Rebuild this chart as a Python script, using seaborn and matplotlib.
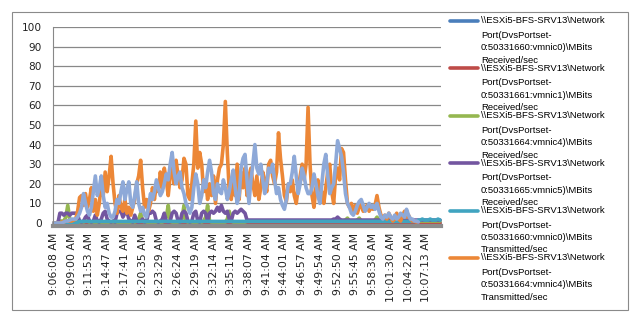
import numpy as np
import pandas as pd
import matplotlib
matplotlib.use("Agg")
import matplotlib.pyplot as plt
from matplotlib.lines import Line2D
from matplotlib.patches import Rectangle
import seaborn as sns

nan = np.nan

# ---- tick labels (one label every 9 samples) ----
time_labels = ["9:06:08 AM", "9:09:00 AM", "9:11:53 AM", "9:14:47 AM", "9:17:41 AM",
               "9:20:35 AM", "9:23:29 AM", "9:26:24 AM", "9:29:19 AM", "9:32:14 AM",
               "9:35:11 AM", "9:38:07 AM", "9:41:04 AM", "9:44:01 AM", "9:46:57 AM",
               "9:49:54 AM", "9:52:50 AM", "9:55:45 AM", "9:58:38 AM", "10:01:30 AM",
               "10:04:22 AM", "10:07:13 AM"]
label_step = 9

series_names = [
    r"\\ESXi5-BFS-SRV13\Network Port(DvsPortset-0:50331660:vmnic0)\MBits Received/sec",
    r"\\ESXi5-BFS-SRV13\Network Port(DvsPortset-0:50331661:vmnic1)\MBits Received/sec",
    r"\\ESXi5-BFS-SRV13\Network Port(DvsPortset-0:50331664:vmnic4)\MBits Received/sec",
    r"\\ESXi5-BFS-SRV13\Network Port(DvsPortset-0:50331665:vmnic5)\MBits Received/sec",
    r"\\ESXi5-BFS-SRV13\Network Port(DvsPortset-0:50331660:vmnic0)\MBits Transmitted/sec",
    r"\\ESXi5-BFS-SRV13\Network Port(DvsPortset-0:50331664:vmnic4)\MBits Transmitted/sec",
    r"\\ESXi5-BFS-SRV13\Network Port(DvsPortset-0:50331665:vmnic5)\MBits Transmitted/sec",
]
colors = ["#4A7EBB", "#BE4B48", "#95B750", "#7356A0", "#40A4C0", "#EC8737", "#8EA9D8"]

# ---- series values (197 samples each) ----
rx_vmnic0 = [
    0, 0, 0, 0, 0, 0, 0, 0, 0, 0,  0, 0, 0, 0, 0, 0, 0, 0, 0, 0,
    0, 0, 0, 0, 0, 0, 0, 0, 0, 0,  0, 0, 0, 0, 0, 0, 0, 0, 0, 0,
    0, 0, 0, 0, 0, 0, 0, 0, 0, 0,  0, 0, 0, 0, 0, 0, 0, 0, 0, 0,
    0, 0, 0, 0, 0, 0, 0, 0, 0, 0,  0, 0, 0, 0, 0, 0, 0, 0, 0, 0,
    0, 0, 0, 0, 0, 0, 0, 0, 0, 0,  0, 0, 0, 0, 0, 0, 0, 0, 0, 0,
    0, 0, 0, 0, 0, 0, 0, 0, 0, 0,  0, 0, 0, 0, 0, 0, 0, 0, 0, 0,
    0, 0, 0, 0, 0, 0, 0, 0, 0, 0,  0, 0, 0, 0, 0, 0, 0, 0, 0, 0,
    0, 0, 0, 0, 0, 0, 0, 0, 0, 0,  0, 0, 0, 0, 0, 0, 0, 0, 0, 0,
    0, 0, 0, 0, 0, 0, 0, 0, 0, 0,  0, 0, 0, 0, 0, 0, 0, 0, 0, 0,
    0, 0, 0, 0, 0, 0, 0, 0, 0, 0,  0, 0, 0, 0, 0, 0, 0,
]
rx_vmnic1 = list(rx_vmnic0)

rx_vmnic4 = [
    0, 0, 0.5, 1, 1, 1, 3, 9, 2, 1,
    1, 0.5, 0.5, 0.5, 0.5, 0.5, 1, 1, 0.5, 0.5,
    0.5, 0.5, 0.5, 0.5, 0.5, 0.5, 0.5, 0.5, 0.5, 0.5,
    0.5, 0.5, 0.5, 0.5, 0.5, 0.5, 0.5, 0.5, 0.5, 0.5,
    0.5, 0.5, 1, 2, 5, 1, 0.5, 0.5, 0.5, 0.5,
    0.5, 0.5, 0.5, 0.5, 0.5, 0.5, 1, 3, 9, 1,
    0.5, 0.5, 0.5, 0.5, 0.5, 2, 9, 1, 0.5, 0.5,
    0.5, 0.5, 0.5, 0.5, 0.5, 0.5, 1, 3, 9, 1,
    0.5, 0.5, 0.5, 0.5, 0.5, 0.5, 0.5, 0.5, 2, 6,
    1, 0.5, 0.5, 0.5, 0.5, 0.5, 0.5, 0.5, 1, 1,
    1, 1, 1, 1, 1, 1, 1, 1, 1, 1,
    1, 1, 1, 1, 1, 1, 1, 1, 1, 1,
    1, 1, 1, 1, 1, 1, 1, 1, 1, 1,
    1, 1, 1, 1, 1, 1, 1, 1, 1, 1,
    1, 1, 1, 1, 1, 1, 1, 1, 1.5, 2.5,
    1, 1, 1, 1, 1.5, 2.5, 1, 1, 1, 1,
    1, 1, 1, 1.5, 3, 1.5, 1, 1, 1, 1,
    1, 1, 1, 1, 1, 1, 1, 1, 1, 1,
    1, 1, 1, 1, 1, 1, 1, 1, 1, 1,
    1, 1, 1, 1, 1, 1, 1,
]

rx_vmnic5 = [
    0, 0, 0, 5, 5, 4, 5, 5, 4, 5,
    5, 5, 4, 1, 0.5, 1, 3, 4, 1, 0.5,
    1, 4, 1, 0.5, 2, 5, 6, 2, 1, 0.5,
    1, 0.5, 5, 6, 6, 3, 5, 6, 2, 1,
    0.5, 4, 1, 0.5, 1, 2, 0.5, 1, 5, 5,
    6, 5, 1, 0.5, 1, 2, 5, 1, 0.5, 1,
    5, 6, 5, 1, 0.5, 5, 6, 5, 1, 0.5,
    1, 5, 6, 1, 0.5, 5, 6, 5, 1, 5,
    6, 5, 6, 8, 6, 9, 6, 5, 6, 2,
    1, 5, 6, 5, 6, 7, 6, 5, 1.5, 1.5,
    1.5, 1.5, 1.5, 1.5, 1.5, 1.5, 1.5, 1.5, 1.5, 1.5,
    1.5, 1.5, 1.5, 1.5, 1.5, 1.5, 1.5, 1.5, 1.5, 1.5,
    1.5, 1.5, 1.5, 1.5, 1.5, 1.5, 1.5, 1.5, 1.5, 1.5,
    1.5, 1.5, 1.5, 1.5, 1.5, 1.5, 1.5, 1.5, 1.5, 1.5,
    1.5, 1.5, 2, 2, 3, 2, 1.5, 1.5, 1.5, 1.5,
    1.5, 1.5, 1.5, 1.5, 1.5, 1.5, 1.5, 1.5, 1.5, 1.5,
    1.5, 1.5, 1.5, 1.5, 1.5, 1.5, 1.5, 1.5, 1.5, 1.5,
    1.5, 1.5, 1.5, 1.5, 1.5, 1.5, 1.5, 1.5, 1.5, 1.5,
    1.5, 1.5, 1.5, 1.5, 1.5, 1.5, 1.5, 1.5, 1.5, 1.5,
    1.5, 1.5, 1.5, 1.5, 1.5, 1.5, 1.5,
]

tx_vmnic0 = [
    0, 0, 0, 0, 0, 0, 0, 0, 0, 0,
    0, 0, 0.3, 0.8, 0.8, 0.8, 0.8, 0.8, 0.8, 0.8,
    0.8, 0.8, 0.8, 0.8, 0.8, 0.8, 0.8, 0.8, 0.8, 0.8,
    0.8, 0.8, 0.8, 0.8, 0.8, 0.8, 0.8, 0.8, 0.8, 0.8,
    0.8, 0.8, 0.8, 0.8, 0.8, 0.8, 0.8, 0.8, 0.8, 0.8,
    0.8, 0.8, 0.8, 0.8, 0.8, 0.8, 0.8, 0.8, 0.8, 0.8,
    0.8, 0.8, 0.8, 0.8, 0.8, 0.8, 0.8, 0.8, 0.8, 0.8,
    0.8, 0.8, 0.8, 0.8, 0.8, 0.8, 0.8, 0.8, 0.8, 0.8,
    0.8, 0.8, 0.8, 0.8, 0.8, 0.8, 0.8, 0.8, 0.8, 0.8,
    0.8, 0.8, 0.8, 0.8, 0.8, 0.8, 0.8, 0.8, 0.8, 0.8,
    0.8, 0.8, 0.8, 0.8, 0.8, 0.8, 0.8, 0.8, 0.8, 0.8,
    0.8, 0.8, 0.8, 0.8, 0.8, 0.8, 0.8, 0.8, 0.8, 0.8,
    0.8, 0.8, 0.8, 0.8, 0.8, 0.8, 0.8, 0.8, 0.8, 0.8,
    0.8, 0.8, 0.8, 0.8, 0.8, 0.8, 0.8, 0.8, 0.8, 0.8,
    0.8, 0.8, 0.8, 0.8, 0.8, 0.8, 0.8, 0.8, 0.8, 0.8,
    0.8, 0.8, 0.8, 0.8, 0.8, 0.8, 0.8, 0.8, 0.8, 0.8,
    0.8, 0.8, 0.8, 0.8, 0.8, 0.8, 0.8, 0.8, 0.8, 0.8,
    0.8, 0.8, 0.8, 0.8, 0.8, 0.8, 0.8, 0.8, 0.8, 0.8,
    0.8, 0.8, 0.8, 0.8, 0.8, 1.5, 1.5, 2, 1.5, 1.5,
    1.5, 2, 1.5, 1.5, 1.5, 2, 1.5,
]

tx_vmnic4 = [
    0, 0, 0, 0, 0.5, 0.5, 1, 1, 1, 1,
    1.5, 2, 6, 13, 14, 9, 15, 8, 12, 18,
    6, 12, 4, 10, 20, 14, 26, 16, 24, 34,
    20, 10, 5, 14, 8, 6, 12, 5, 8, 4,
    8, 12, 20, 24, 32, 18, 8, 12, 6, 10,
    18, 12, 20, 16, 26, 18, 28, 22, 14, 24,
    28, 20, 32, 24, 18, 22, 33, 30, 14, 12,
    20, 30, 52, 28, 36, 30, 16, 22, 12, 20,
    14, 24, 10, 22, 28, 30, 40, 62, 36, 16,
    12, 22, 14, 30, 12, 26, 18, 28, 14, 24,
    28, 20, 14, 24, 12, 18, 26, 22, 16, 30,
    32, 24, 20, 26, 46, 33, 24, 14, 11, 20,
    16, 22, 14, 10, 18, 24, 30, 22, 30, 59,
    30, 14, 8, 18, 22, 12, 16, 10, 18, 26,
    30, 16, 10, 24, 28, 22, 38, 36, 22, 10,
    8, 10, 6, 9, 5, 8, 10, 6, 8, 9,
    6, 8, 7, 9, 14, 8, 4, 3, 4, 2,
    5, 3, 1, 2, 5, 2, 1, 4, 6, 3,
    4, 2, 1, 1, 0.5, nan, nan, nan, nan, nan,
    nan, nan, nan, nan, nan, nan, nan,
]

tx_vmnic5 = [
    0, 0, 0, 0, 0, 0.5, 1, 1, 1.5, 2,
    2, 2, 3, 5, 8, 15, 10, 6, 4, 8,
    16, 24, 14, 18, 24, 14, 8, 10, 5, 3,
    3, 6, 12, 10, 16, 21, 12, 17, 21, 10,
    8, 14, 21, 10, 6, 8, 4, 3, 8, 15,
    12, 16, 22, 18, 14, 16, 20, 25, 22, 30,
    36, 26, 20, 24, 26, 18, 15, 10, 8, 5,
    8, 18, 25, 20, 10, 14, 22, 18, 26, 32,
    26, 15, 12, 20, 16, 15, 22, 18, 12, 16,
    22, 27, 18, 10, 14, 28, 33, 35, 22, 10,
    22, 30, 40, 28, 25, 30, 22, 15, 20, 28,
    26, 30, 22, 15, 18, 12, 9, 7, 12, 20,
    20, 26, 34, 24, 15, 20, 28, 24, 18, 15,
    15, 18, 25, 20, 14, 10, 20, 30, 35, 24,
    15, 18, 20, 30, 42, 38, 34, 26, 15, 10,
    8, 5, 4, 6, 9, 11, 12, 9, 6, 8,
    10, 8, 9, 7, 10, 6, 3, 2, 4, 3,
    5, 3, 2, 4, 2, 3, 5, 4, 3, 7,
    4, 2, 2, 1, 1, 0.5, nan, nan, nan, nan,
    nan, nan, nan, nan, nan, nan, nan,
]

all_series = [rx_vmnic0, rx_vmnic1, rx_vmnic4, rx_vmnic5, tx_vmnic0, tx_vmnic4, tx_vmnic5]
N = len(tx_vmnic4)
idx = np.arange(N)
df = pd.concat([pd.DataFrame({"idx": idx, "value": vals, "series": name})
                for name, vals in zip(series_names, all_series)], ignore_index=True)

sns.set_theme(style="white")
plt.rcParams["font.family"] = ["DejaVu Sans"]

W, H = 641, 324
fig = plt.figure(figsize=(W / 100, H / 100), dpi=100)
ax = fig.add_axes([53 / W, 101 / H, 388 / W, 196 / H])

sns.lineplot(data=df, x="idx", y="value", hue="series", hue_order=series_names,
             palette=dict(zip(series_names, colors)), linewidth=2.6,
             legend=False, errorbar=None, estimator=None, sort=False, ax=ax)
for ln in ax.lines:
    ln.set_clip_on(False)
    ln.set_solid_joinstyle("round")
    ln.set_solid_capstyle("round")

grid_c = "#888888"
ax.set_xlim(-0.5, N - 0.5)
ax.set_ylim(0, 100)
ax.set_yticks(np.arange(0, 101, 10))
ax.set_xticks(np.arange(len(time_labels)) * label_step)
ax.set_xticklabels(time_labels)
ax.set_xticks(np.arange(-0.5, N, 3), minor=True)
ax.set_xlabel("")
ax.set_ylabel("")
ax.grid(axis="y", color=grid_c, linewidth=0.9)
ax.grid(axis="x", visible=False)
ax.set_axisbelow(True)

for s in ["top", "right"]:
    ax.spines[s].set_visible(False)
ax.spines["left"].set_color(grid_c)
ax.spines["left"].set_linewidth(0.8)
ax.spines["bottom"].set_color("#8c8c8c")
ax.spines["bottom"].set_linewidth(3.0)
ax.spines["bottom"].set_position(("outward", 2.5))

ax.tick_params(axis="y", direction="out", length=3, width=0.8, color=grid_c,
               pad=5, labelsize=7.6, labelcolor="#222222")
ax.tick_params(axis="x", which="major", length=0, pad=4.5, labelsize=7.8,
               labelcolor="#222222", labelrotation=90)
ax.tick_params(axis="x", which="minor", direction="inout", length=4, width=0.8,
               color="#e6e6e6")
ax.xaxis.set_zorder(3)

# chart border
fig.add_artist(Rectangle((12 / W, 1 - 310 / H), 616 / W, 298 / H,
                         transform=fig.transFigure, fill=False,
                         edgecolor="#8a8a8a", linewidth=0.8))

# legend (first six series, as in the reference)
offsets = [0, 14.5, 27, 39.5]
for k in range(6):
    y0 = 20.7 + 47.45 * k
    fig.add_artist(Line2D([450 / W, 478 / W], [1 - y0 / H] * 2,
                          transform=fig.transFigure, color=colors[k], linewidth=2.6))
    name = series_names[k]
    head, rest = name.split(" ", 1)
    part1, part2 = rest.split("-", 1)
    p2a, p2b = part2.split(")\\", 1)
    lines = [head, part1 + "-", p2a + ")\\" + p2b.split(" ")[0], p2b.split(" ")[1]]
    for off, txt in zip(offsets, lines):
        fig.text(481 / W, 1 - (y0 + off) / H, txt, fontsize=6.8,
                 family="Liberation Sans", va="center", ha="left", color="#000000")

fig.savefig("out.png", dpi=100)
